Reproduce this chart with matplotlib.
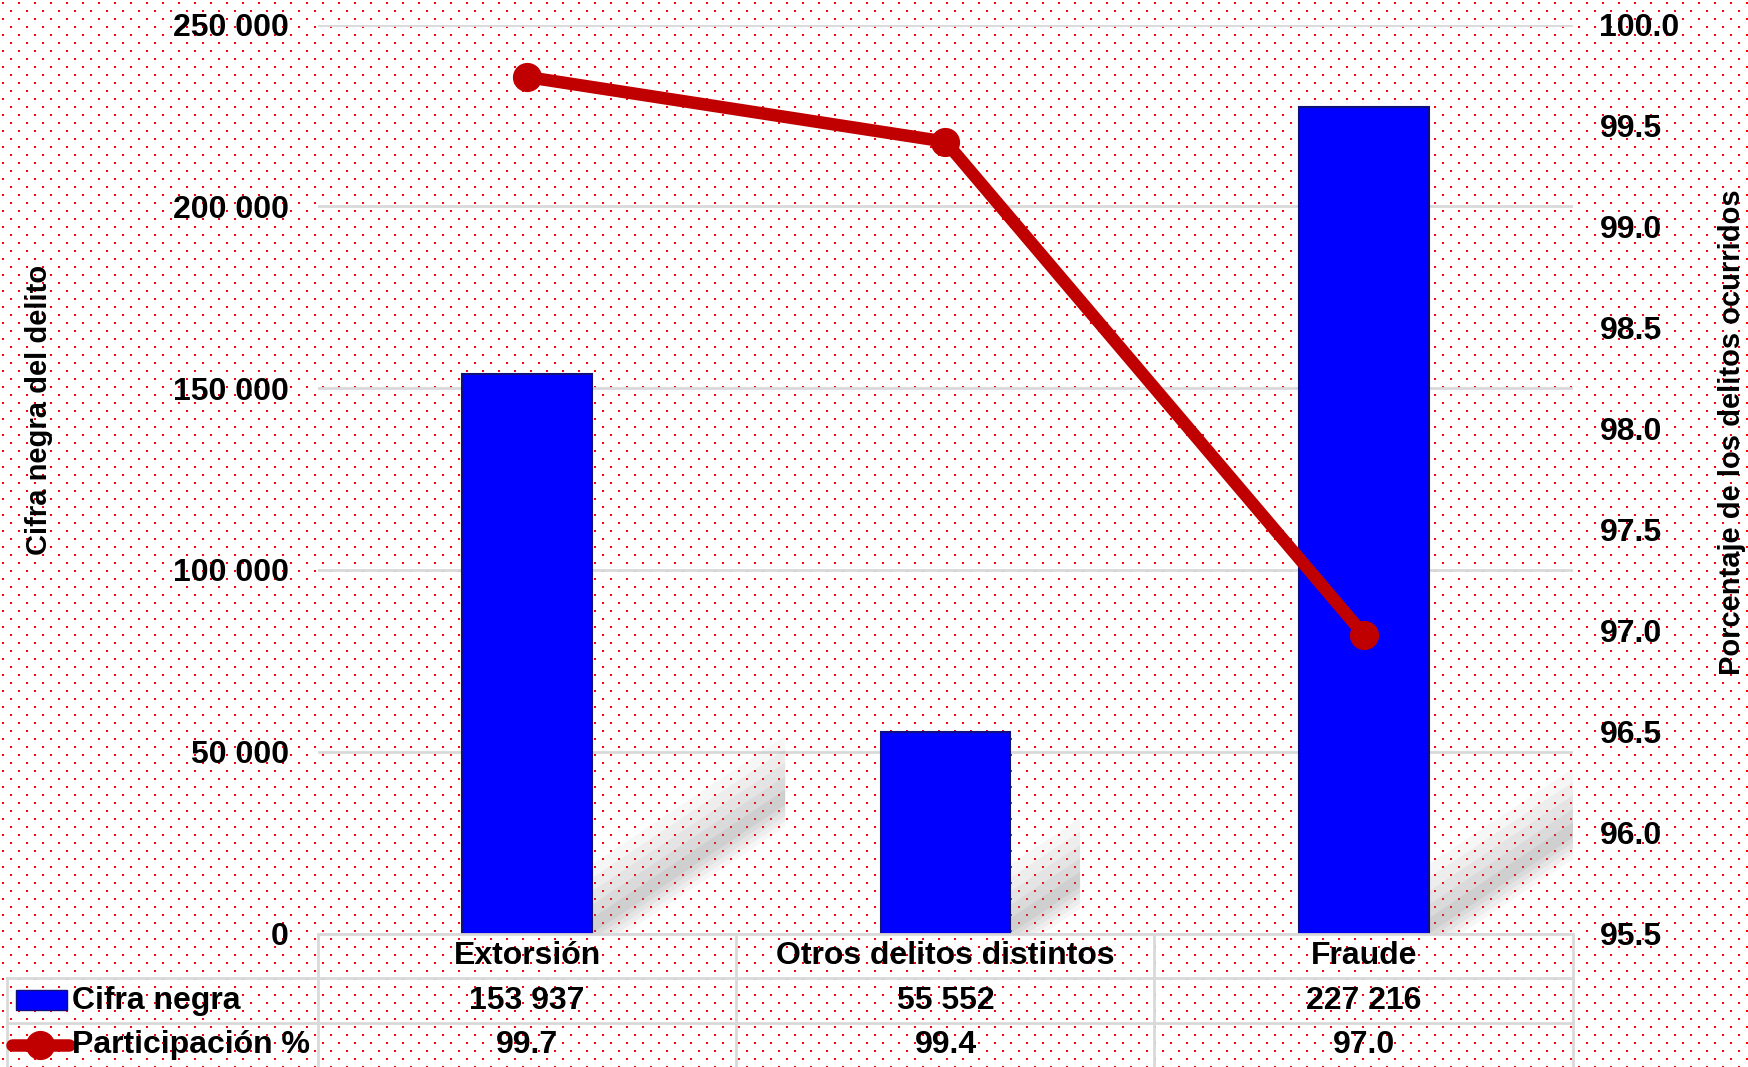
import numpy as np
import matplotlib
matplotlib.use('Agg')
import matplotlib.pyplot as plt
from matplotlib.lines import Line2D
from matplotlib.patches import Rectangle, Polygon
import matplotlib.transforms as mtransforms

plt.rcParams['font.family'] = ['Liberation Sans', 'DejaVu Sans']
plt.rcParams['font.weight'] = 'bold'

categorias = ['Extorsión', 'Otros delitos distintos', 'Fraude']
cifra_negra = [153937, 55552, 227216]
participacion = [99.74, 99.42, 96.98]
left_ticks = [0, 50000, 100000, 150000, 200000, 250000]
right_ticks = [95.5, 96.0, 96.5, 97.0, 97.5, 98.0, 98.5, 99.0, 99.5, 100.0]

W, H = 1749, 1067
FS = 23
fig = plt.figure(figsize=(W / 100, H / 100), dpi=100)

# dotted red background
bg = fig.add_axes([0, 0, 1, 1], zorder=-5)
bg.set_xlim(0, W)
bg.set_ylim(H, 0)
bg.axis('off')
gx, gy = np.meshgrid(np.arange(0, W + 16, 16), np.arange(0, H + 8, 8))
gx = gx + (np.arange(gy.shape[0])[:, None] % 2) * 8
bg.scatter(gx.ravel() + 3, gy.ravel() + 3, s=2.2, marker='s', color='#FF0000', linewidths=0)

ax = fig.add_axes([318 / W, 1 - 933.6 / H, (1573 - 318) / W, (933.6 - 24.5) / H])
ax.set_facecolor('none')
x = np.arange(len(categorias))

ax.set_xlim(-0.5, 2.5)
ax.set_ylim(0, 250000)
ax.set_yticks(left_ticks)
ax.set_yticklabels([f'{v:,}'.replace(',', ' ') for v in left_ticks], fontsize=FS, fontweight='bold')
ax.tick_params(axis='y', length=0, pad=21)
ax.set_xticks([])
for s in ax.spines.values():
    s.set_visible(False)
ax.grid(axis='y', color='#D9D9D9', linewidth=2, zorder=0)
ax.set_axisbelow(True)

# soft diagonal shadows behind bars
bw = 0.31
for xi, h in zip(x, cifra_negra):
    xr = xi + bw / 2
    dx = h * 3.0e-6
    dy = h * 0.23
    for k, a in zip(range(5), [0.07, 0.07, 0.08, 0.09, 0.12]):
        t = 13000 - k * 2200
        off = (4 - k) * 1500
        poly = Polygon([(xr, -off), (xr, t + off), (xr + dx, dy + t + off), (xr + dx, dy - off)],
                       closed=True, facecolor='#808080', alpha=a, edgecolor='none', zorder=1)
        ax.add_patch(poly)

ax.bar(x, cifra_negra, width=bw, color='#0000FF', edgecolor='#10107A', linewidth=1.5, zorder=3)

ax2 = ax.twinx()
ax2.set_ylim(95.5, 100.0)
ax2.set_yticks(right_ticks)
ax2.set_yticklabels([f'{v:.1f}' for v in right_ticks], fontsize=FS, fontweight='bold')
ax2.tick_params(axis='y', length=0, pad=19)
for s in ax2.spines.values():
    s.set_visible(False)
ax2.plot(x, participacion, color='#C00000', linewidth=9, marker='o', markersize=20,
         solid_capstyle='round', zorder=5)

fig.text(39 / W, 1 - 410 / H, 'Cifra negra del delito', rotation=90, ha='center', va='center',
         fontsize=21, fontweight='bold')
fig.text(1732 / W, 1 - 432 / H, 'Porcentaje de los delitos ocurridos', rotation=90, ha='center',
         va='center', fontsize=21, fontweight='bold')

# data table below the plot
trans = mtransforms.blended_transform_factory(ax.transData, ax.transAxes)
row_y = [-0.0246, -0.0736, -0.1226]
for xi, cat, v, p in zip(x, categorias, cifra_negra, participacion):
    ax.text(xi, row_y[0], cat, transform=trans, ha='center', va='center', fontsize=FS, fontweight='bold')
    ax.text(xi, row_y[1], f'{v:,}'.replace(',', ' '), transform=trans, ha='center', va='center',
            fontsize=FS, fontweight='bold')
    ax.text(xi, row_y[2], f'{p:.1f}', transform=trans, ha='center', va='center', fontsize=FS,
            fontweight='bold')

lc = '#D9D9D9'
def fline(xs, ys):
    fig.add_artist(Line2D([a / W for a in xs], [1 - b / H for b in ys], color=lc, linewidth=2))

fline([318, 1573], [934, 934])
fline([7, 1573], [978, 978])
fline([7, 1573], [1023, 1023])
fline([7, 7], [978, 1067])
for xv in [318, 736, 1154, 1573]:
    fline([xv, xv], [934, 1067])

fig.add_artist(Rectangle((16 / W, 1 - 1010 / H), 51 / W, 20 / H, facecolor='#0000FF',
                         edgecolor='#10107A', linewidth=1))
fig.text(72 / W, 1 - 1000.5 / H, 'Cifra negra', ha='left', va='center', fontsize=FS, fontweight='bold')
fig.add_artist(Line2D([12 / W, 69 / W], [1 - 1045 / H] * 2, color='#C00000', linewidth=9,
                      solid_capstyle='round'))
fig.add_artist(Line2D([40 / W], [1 - 1045 / H], color='#C00000', marker='o', markersize=20,
                      linestyle='none'))
fig.text(72 / W, 1 - 1045 / H, 'Participación %', ha='left', va='center', fontsize=FS, fontweight='bold')

fig.savefig('out.png', dpi=100)
